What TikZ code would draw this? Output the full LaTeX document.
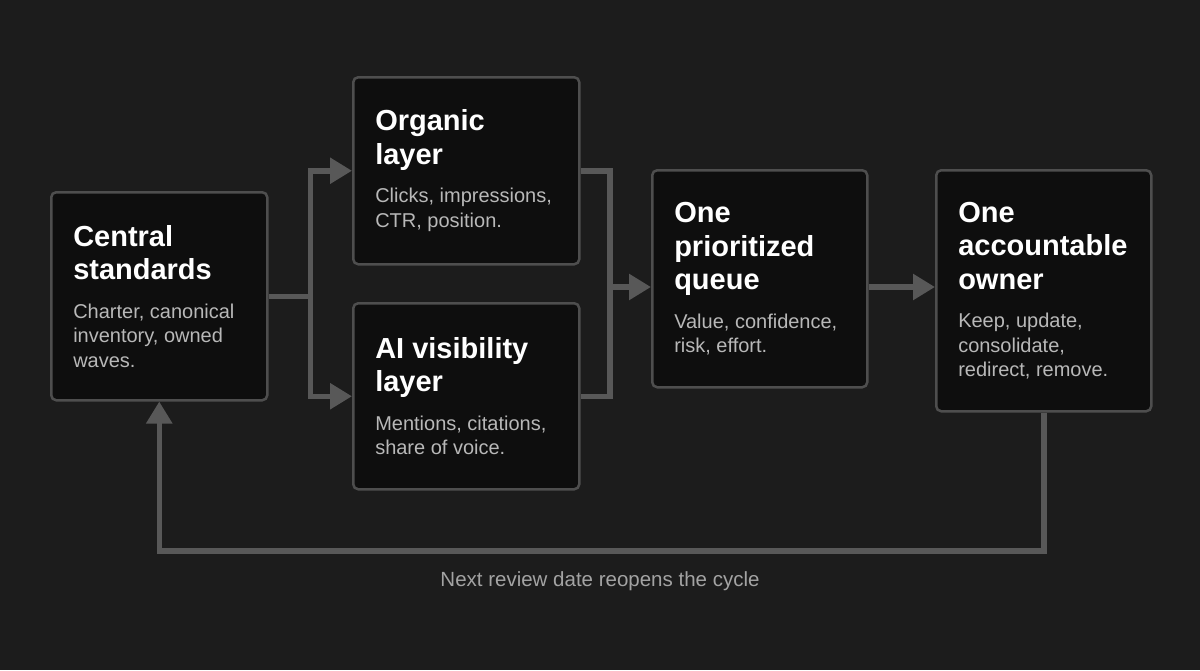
\documentclass[tikz,border=0pt]{standalone}
\usepackage{fontspec}
\setmainfont{Liberation Sans}
\usepackage{tikz}
\usetikzlibrary{calc,positioning}
\usetikzlibrary{arrows.meta,backgrounds}

\definecolor{pagebg}{HTML}{1C1C1C}
\definecolor{boxfill}{HTML}{0E0E0E}
\definecolor{boxedge}{HTML}{4E4E4E}
\definecolor{flowgray}{HTML}{585858}
\definecolor{bodygray}{HTML}{B8B8B8}
\definecolor{notegray}{HTML}{A3A3A3}

\newcommand{\stagetext}[2]{{\fontsize{29}{33.5}\selectfont\bfseries\spaceskip=0pt\xspaceskip=0pt\color{white}#1\par}\vspace{14pt}{\fontsize{20}{24.5}\selectfont\spaceskip=0pt\xspaceskip=0pt\color{bodygray}#2\par}}

\begin{document}
\begin{tikzpicture}[x=1pt,y=-1pt,
	stage/.style={draw=boxedge, line width=2.5pt, fill=boxfill, rounded corners=5pt, anchor=north west, inner xsep=22pt, inner ysep=0pt, align=left},
	flow/.style={draw=flowgray, line width=5.5pt},
	flowarrow/.style={flow, -{Triangle[length=22pt,width=25pt]}}]
				%\draw[color=gray,step=10pt, help lines,opacity=0.3] (0,0) grid (1200,670); %help grids
				\fill[pagebg] (0,0) rectangle (1200,670);
				\useasboundingbox (0,0) rectangle (1200,670);
				\node[stage, text width=172pt, minimum height=208pt] (central) at (50,191) {\stagetext{Central\\standards}{Charter, canonical\\inventory, owned\\waves.}};
				\node[stage, text width=182pt, minimum height=187pt] (organic) at (352,76) {\stagetext{Organic\\layer}{Clicks, impressions,\\CTR, position.}};
				\node[stage, text width=182pt, minimum height=186pt] (ai) at (352,302) {\stagetext{AI visibility\\layer}{Mentions, citations,\\share of voice.}};
				\node[stage, text width=171pt, minimum height=217pt] (queue) at (651,169) {\stagetext{One\\prioritized\\queue}{Value, confidence,\\risk, effort.}};
				\node[stage, text width=171pt, minimum height=241pt] (owner) at (935,169) {\stagetext{One\\accountable\\owner}{Keep, update,\\consolidate,\\redirect, remove.}};
				\coordinate (merge) at (610,287);
				\coordinate (loopbottom) at (0,551);
				\draw[flow] (central.east) -- ++(42,0) coordinate (split);
				\draw[flowarrow] (split) |- (organic.west);
				\draw[flowarrow] (split) |- (ai.west);
				\draw[flow] (organic.east) -| (merge);
				\draw[flow] (ai.east) -| (merge);
				\draw[flowarrow] (merge) -- (merge -| queue.west);
				\draw[flowarrow] (queue.east |- merge) -- (owner.west |- merge);
				\draw[flowarrow] (owner.south) -- (owner.south |- loopbottom) -| (central.south);
				\node[text=notegray, font=\fontsize{20.5}{24}\selectfont] (cyclenote) at (600,581) {Next review date reopens the cycle};
\end{tikzpicture}
\end{document}
